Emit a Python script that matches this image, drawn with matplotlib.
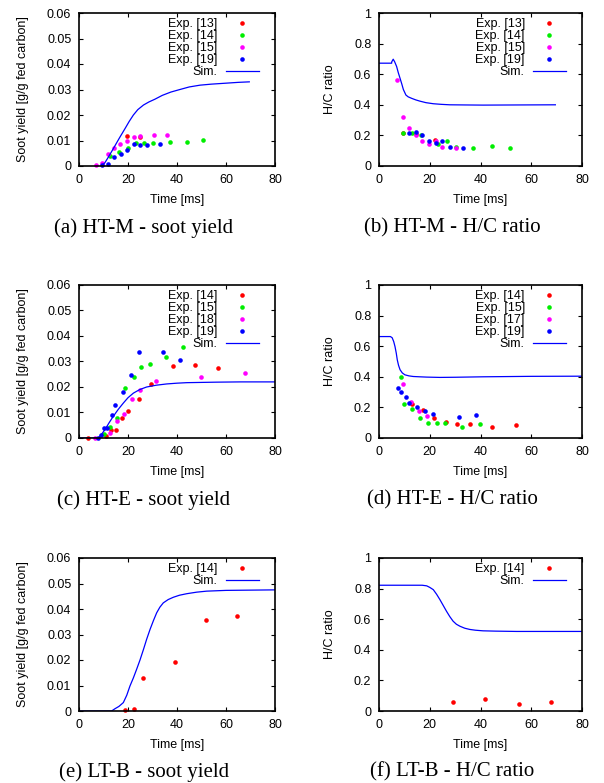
import matplotlib
matplotlib.use("Agg")
import matplotlib.pyplot as plt

plt.rcParams['font.family'] = ['Liberation Sans', 'DejaVu Sans']
plt.rcParams['font.size'] = 9

RED, GREEN, MAGENTA, BLUE = '#ff0000', '#00ee00', '#ff00ff', '#0000ff'

# (a) HT-M soot yield
a_x13 = [19.6, 24.9]
a_y13 = [0.0117, 0.0114]
a_x14 = [12.7, 16.3, 20.0, 23.1, 26.5, 30.1, 37.0, 44.2, 50.6]
a_y14 = [0.0039, 0.0054, 0.0070, 0.0092, 0.0091, 0.0092, 0.0096, 0.0096, 0.0102]
a_x15 = [7.1, 9.4, 11.7, 14.4, 16.9, 19.6, 22.3, 24.9, 30.5, 35.8]
a_y15 = [0.0004, 0.0010, 0.0049, 0.0071, 0.0087, 0.0098, 0.0113, 0.0119, 0.0123, 0.0123]
a_x19 = [9.3, 12.0, 14.4, 17.0, 19.6, 22.3, 25.0, 27.6, 33.2]
a_y19 = [0.0004, 0.0007, 0.0034, 0.0049, 0.0064, 0.0085, 0.0081, 0.0083, 0.0088]
a_simx = [9.3, 10.5, 12.0, 14.0, 16.5, 18.8, 20.5, 22.2, 24.0, 26.3, 28.5, 31.0, 34.0,
          37.5, 41.2, 45.0, 49.4, 54.0, 60.3, 65.0, 69.5]
a_simy = [0.0, 0.0012, 0.0035, 0.0068, 0.0110, 0.0147, 0.0175, 0.0200, 0.0221, 0.0239,
          0.0251, 0.0262, 0.0277, 0.0290, 0.0300, 0.0310, 0.0317, 0.0321, 0.0325, 0.0328, 0.0330]

# (b) HT-M H/C ratio
b_x13 = [9.3, 14.4, 22.2]
b_y13 = [0.217, 0.210, 0.168]
b_x14 = [9.6, 13.1, 16.5, 23.3, 26.8, 30.4, 37.1, 44.5, 51.5]
b_y14 = [0.217, 0.217, 0.201, 0.147, 0.162, 0.125, 0.116, 0.129, 0.116]
b_x15 = [7.2, 9.4, 11.9, 14.4, 16.9, 19.7, 22.3, 24.9, 30.4]
b_y15 = [0.562, 0.322, 0.249, 0.201, 0.162, 0.142, 0.164, 0.125, 0.116]
b_x19 = [11.9, 14.4, 17.0, 19.7, 22.3, 25.0, 27.8, 33.2]
b_y19 = [0.217, 0.219, 0.201, 0.162, 0.151, 0.162, 0.125, 0.116]
b_simx = [0.0, 5.0, 5.0, 5.6, 6.2, 6.95, 7.6, 8.3, 9.0, 9.6, 10.6, 11.5, 12.9, 14.5,
          16.1, 18.5, 21.4, 24.5, 27.9, 34.0, 41.0, 55.0, 69.5]
b_simy = [0.672, 0.672, 0.680, 0.698, 0.680, 0.650, 0.610, 0.573, 0.535, 0.500, 0.464,
          0.452, 0.442, 0.432, 0.424, 0.414, 0.407, 0.403, 0.400, 0.399, 0.398, 0.399, 0.400]

# (c) HT-E soot yield
c_x14 = [3.8, 11.0, 12.9, 15.1, 17.7, 19.9, 24.5, 29.3, 38.4, 47.3, 56.9]
c_y14 = [0.0, 0.0009, 0.0031, 0.0030, 0.0077, 0.0107, 0.0154, 0.0210, 0.0283, 0.0286, 0.0273]
c_x15 = [10.3, 12.8, 15.6, 18.8, 22.3, 25.4, 28.8, 35.4, 42.6]
c_y15 = [0.0016, 0.0043, 0.0077, 0.0197, 0.0239, 0.0278, 0.0290, 0.0318, 0.0355]
c_x18 = [6.4, 12.7, 15.4, 18.2, 21.5, 24.8, 31.4, 49.8, 67.8]
c_y18 = [0.0, 0.0018, 0.0065, 0.0094, 0.0153, 0.0188, 0.0223, 0.0240, 0.0256]
c_x19 = [7.8, 9.0, 10.2, 11.6, 13.3, 14.8, 18.0, 21.1, 24.4, 34.4, 41.4]
c_y19 = [0.0, 0.0010, 0.0038, 0.0038, 0.0091, 0.0129, 0.0181, 0.0248, 0.0336, 0.0339, 0.0304]
c_simx = [0.0, 7.9, 9.0, 10.6, 12.3, 14.0, 16.0, 18.1, 20.0, 22.2, 24.8, 27.6, 31.5,
          35.8, 40.0, 44.0, 50.0, 56.2, 66.0, 80.0]
c_simy = [0.0, 0.0, 0.0012, 0.0033, 0.0060, 0.0085, 0.0112, 0.0137, 0.0158, 0.0176,
          0.0190, 0.0200, 0.0207, 0.0212, 0.0215, 0.0217, 0.0218, 0.0219, 0.0220, 0.0220]

# (d) HT-E H/C ratio
d_x14 = [12.9, 17.2, 21.6, 26.4, 30.8, 35.7, 44.6, 53.9]
d_y14 = [0.222, 0.185, 0.130, 0.102, 0.091, 0.091, 0.070, 0.083]
d_x15 = [8.5, 10.0, 13.0, 16.3, 19.4, 22.7, 26.0, 32.7, 39.7]
d_y15 = [0.400, 0.222, 0.187, 0.133, 0.100, 0.096, 0.100, 0.070, 0.089]
d_x17 = [9.3, 12.6, 15.7, 18.8]
d_y17 = [0.354, 0.235, 0.176, 0.143]
d_x19 = [7.3, 8.8, 10.5, 11.9, 15.1, 18.1, 21.4, 31.5, 38.4]
d_y19 = [0.326, 0.298, 0.267, 0.226, 0.200, 0.176, 0.154, 0.139, 0.148]
d_simx = [0.0, 4.5, 5.2, 5.8, 6.3, 6.8, 7.2, 7.7, 8.3, 9.2, 10.2, 11.8, 13.5, 16.0,
          18.8, 24.0, 30.0, 41.0, 60.0, 80.0]
d_simy = [0.663, 0.663, 0.655, 0.630, 0.598, 0.555, 0.511, 0.475, 0.446, 0.425, 0.413,
          0.406, 0.402, 0.400, 0.398, 0.396, 0.397, 0.400, 0.403, 0.404]

# (e) LT-B soot yield
e_x14 = [18.8, 22.4, 26.0, 39.0, 52.0, 64.6]
e_y14 = [0.0004, 0.0006, 0.0128, 0.0193, 0.0357, 0.0374]
e_simx = [0.0, 13.3, 14.7, 16.3, 18.1, 19.5, 20.8, 22.2, 23.5, 24.9, 26.3, 27.6, 29.0,
          30.4, 31.7, 33.0, 34.4, 36.4, 38.5, 41.0, 44.0, 48.0, 52.1, 60.0, 70.0, 80.0]
e_simy = [0.0, 0.0, 0.0009, 0.0018, 0.0033, 0.0062, 0.0098, 0.0130, 0.0163, 0.0200,
          0.0241, 0.0281, 0.0320, 0.0355, 0.0385, 0.0407, 0.0424, 0.0437, 0.0446, 0.0454,
          0.0460, 0.0466, 0.0470, 0.0473, 0.0474, 0.0475]

# (f) LT-B H/C ratio
f_x14 = [29.1, 41.9, 55.0, 67.8]
f_y14 = [0.059, 0.078, 0.048, 0.059]
f_simx = [0.0, 17.0, 18.8, 20.0, 21.4, 22.7, 24.0, 25.3, 26.6, 27.9, 29.2, 30.5, 31.9,
          33.8, 35.8, 38.0, 41.0, 46.0, 54.2, 65.0, 80.0]
f_simy = [0.822, 0.822, 0.818, 0.808, 0.793, 0.763, 0.728, 0.690, 0.652, 0.617, 0.587,
          0.567, 0.554, 0.541, 0.533, 0.528, 0.524, 0.522, 0.520, 0.520, 0.520]

captions = ['(a) HT-M - soot yield', '(b) HT-M - H/C ratio',
            '(c) HT-E - soot yield', '(d) HT-E - H/C ratio',
            '(e) LT-B - soot yield', '(f) LT-B - H/C ratio']

W, H = 604, 783
fig = plt.figure(figsize=(W / 100, H / 100), dpi=100)

col_left = [79, 379]
col_width = [196, 203]
row_top = [13, 285, 558]
row_h = 153


def make_axes(row, col):
    l = col_left[col] / W
    w = col_width[col] / W
    b = 1 - (row_top[row] + row_h) / H
    return fig.add_axes([l, b, w, row_h / H])


def style(ax, soot):
    ax.set_xlim(0, 80)
    ax.set_xticks([0, 20, 40, 60, 80])
    if soot:
        ax.set_ylim(0, 0.06)
        ax.set_yticks([0, 0.01, 0.02, 0.03, 0.04, 0.05, 0.06])
        ax.set_yticklabels(['0', '0.01', '0.02', '0.03', '0.04', '0.05', '0.06'])
        ax.set_ylabel('Soot yield [g/g fed carbon]', labelpad=13)
    else:
        ax.set_ylim(0, 1)
        ax.set_yticks([0, 0.2, 0.4, 0.6, 0.8, 1])
        ax.set_yticklabels(['0', '0.2', '0.4', '0.6', '0.8', '1'])
        ax.set_ylabel('H/C ratio', labelpad=13)
    ax.set_xlabel('Time [ms]', labelpad=6)
    ax.tick_params(direction='in', top=True, right=True, length=3, width=0.8,
                   labelsize=9, pad=5.5, colors='black')
    for s in ax.spines.values():
        s.set_linewidth(1.2)


def exp_points(ax, xs, ys, color, label):
    ax.plot(xs, ys, 'o', color=color, ms=3.3, mew=0, label=label, clip_on=False)


def sim_line(ax, xs, ys):
    ax.plot(xs, ys, '-', color=BLUE, lw=0.9, label='Sim.')


def legend(ax, col):
    right = 1 - 16 / col_width[col]
    ax.legend(loc='upper right', bbox_to_anchor=(right, 1 - 5 / row_h),
              frameon=False, markerfirst=False, numpoints=1, handlelength=2.65,
              handletextpad=0.65, labelspacing=0.0, borderpad=0, borderaxespad=0,
              fontsize=9)


# (a)
ax = make_axes(0, 0)
exp_points(ax, a_x13, a_y13, RED, 'Exp. [13]')
exp_points(ax, a_x14, a_y14, GREEN, 'Exp. [14]')
exp_points(ax, a_x15, a_y15, MAGENTA, 'Exp. [15]')
exp_points(ax, a_x19, a_y19, BLUE, 'Exp. [19]')
sim_line(ax, a_simx, a_simy)
style(ax, True)
legend(ax, 0)

# (b)
ax = make_axes(0, 1)
exp_points(ax, b_x13, b_y13, RED, 'Exp. [13]')
exp_points(ax, b_x14, b_y14, GREEN, 'Exp. [14]')
exp_points(ax, b_x15, b_y15, MAGENTA, 'Exp. [15]')
exp_points(ax, b_x19, b_y19, BLUE, 'Exp. [19]')
sim_line(ax, b_simx, b_simy)
style(ax, False)
legend(ax, 1)

# (c)
ax = make_axes(1, 0)
exp_points(ax, c_x14, c_y14, RED, 'Exp. [14]')
exp_points(ax, c_x15, c_y15, GREEN, 'Exp. [15]')
exp_points(ax, c_x18, c_y18, MAGENTA, 'Exp. [18]')
exp_points(ax, c_x19, c_y19, BLUE, 'Exp. [19]')
sim_line(ax, c_simx, c_simy)
style(ax, True)
legend(ax, 0)

# (d)
ax = make_axes(1, 1)
exp_points(ax, d_x14, d_y14, RED, 'Exp. [14]')
exp_points(ax, d_x15, d_y15, GREEN, 'Exp. [15]')
exp_points(ax, d_x17, d_y17, MAGENTA, 'Exp. [17]')
exp_points(ax, d_x19, d_y19, BLUE, 'Exp. [19]')
sim_line(ax, d_simx, d_simy)
style(ax, False)
legend(ax, 1)

# (e)
ax = make_axes(2, 0)
exp_points(ax, e_x14, e_y14, RED, 'Exp. [14]')
sim_line(ax, e_simx, e_simy)
style(ax, True)
legend(ax, 0)

# (f)
ax = make_axes(2, 1)
exp_points(ax, f_x14, f_y14, RED, 'Exp. [14]')
sim_line(ax, f_simx, f_simy)
style(ax, False)
legend(ax, 1)

# captions under each panel
cap_y = [228, 500, 772]
cap_x = [144, 452]
for i, cap in enumerate(captions):
    r, c = divmod(i, 2)
    fig.text(cap_x[c] / W, 1 - cap_y[r] / H, cap, ha='center', va='center',
             family=['Liberation Serif', 'DejaVu Serif'], fontsize=15)

fig.savefig('out.png', dpi=100)
